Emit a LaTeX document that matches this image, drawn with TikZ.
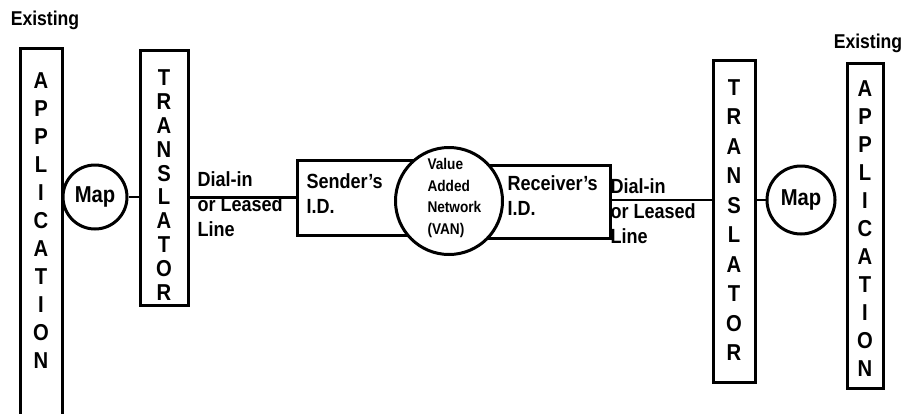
\documentclass[tikz,border=0pt]{standalone}
\usepackage{fontspec}
\setmainfont[FakeStretch=0.88]{Liberation Sans}
\begin{document}
\begin{tikzpicture}[x=1pt,y=-1pt,line width=3pt,
  box/.style={draw=none,inner sep=0pt,outer sep=0pt},
  rbox/.style={draw,inner sep=0pt,outer sep=0pt},
  vtxt/.style={inner sep=0pt,align=center,font=\bfseries\fontsize{23}{28}\selectfont},
  lbl/.style={inner sep=0pt,align=left,anchor=north west,font=\bfseries\fontsize{20.5}{25}\selectfont},
  mapc/.style={draw,circle,inner sep=0pt,fill=white,font=\bfseries\fontsize{23}{24}\selectfont},
  conn/.style={line width=2.6pt}]
\useasboundingbox (0,0) rectangle (904,413);
% left application
\node[box,minimum width=42pt,minimum height=380pt] (appL) at (41,238) {};
\draw (appL.south west) -- (appL.north west) -- (appL.north east) -- (appL.south east);
\node[vtxt] (appLt) at (41,221) {A\\P\\P\\L\\I\\C\\A\\T\\I\\O\\N};
\node[inner sep=0pt,font=\bfseries\fontsize{20}{22}\selectfont] (exL) at (45,20) {Existing};
% left map
\node[mapc,minimum size=64pt] (mapL) at (95,197) {Map};
% left translator
\node[rbox,minimum width=48pt,minimum height=255pt] (trL) at (164,177.5) {};
\node[vtxt,font=\bfseries\fontsize{23}{23.8}\selectfont] (trLt) at (164,185) {T\\R\\A\\N\\S\\L\\A\\T\\O\\R};
% left link text
\node[lbl] (dlL) at (196,170) {Dial-in\\or Leased\\Line};
% sender box
\node[rbox,minimum width=130pt,minimum height=75pt] (snd) at (362,197.5) {};
\node[lbl] (sndt) at (305,172) {Sender's\\I.D.};
% receiver box
\node[rbox,minimum width=140pt,minimum height=73pt] (rcv) at (540,201.5) {};
\node[lbl] (rcvt) at (506,174) {Receiver's\\I.D.};
% VAN circle
\node[draw,circle,fill=white,minimum size=107pt,inner sep=0pt] (van) at (449,201) {};
\node[inner sep=0pt,align=left,anchor=west,font=\bfseries\fontsize{15.5}{21.7}\selectfont] (vant) at (426,198) {Value\\Added\\Network\\(VAN)};
% right link text
\node[lbl] (dlR) at (609,177) {Dial-in\\or Leased\\Line};
% right translator
\node[rbox,minimum width=42pt,minimum height=322pt] (trR) at (734,221) {};
\node[vtxt,font=\bfseries\fontsize{23}{29.5}\selectfont] (trRt) at (734,220) {T\\R\\A\\N\\S\\L\\A\\T\\O\\R};
% right map
\node[mapc,minimum size=68pt] (mapR) at (801,200) {Map};
% right application
\node[rbox,minimum width=36pt,minimum height=325pt] (appR) at (865,225.5) {};
\node[vtxt] (appRt) at (865,229) {A\\P\\P\\L\\I\\C\\A\\T\\I\\O\\N};
\node[inner sep=0pt,font=\bfseries\fontsize{20}{22}\selectfont] (exR) at (868,43) {Existing};
% connectors
\draw[conn] (mapL.east) -- (trL.west |- mapL.east);
\draw[conn] (trL.east |- snd.west) -- (snd.west);
\draw[conn] (rcv.east |- mapR.west) -- (trR.west |- mapR.west);
\draw[conn] (trR.east |- mapR.west) -- (mapR.west);
\end{tikzpicture}
\end{document}
